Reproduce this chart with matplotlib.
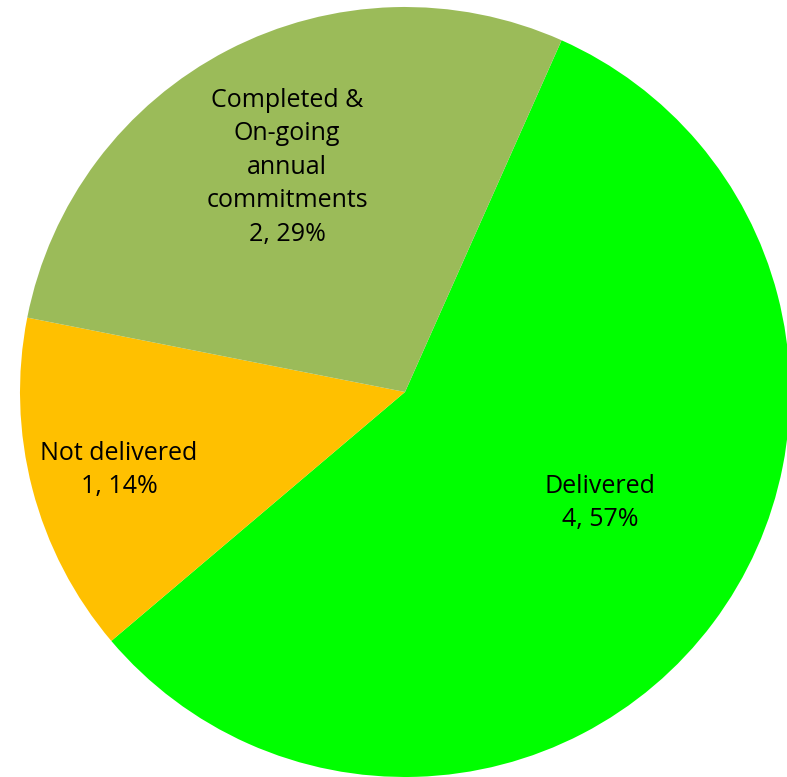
import matplotlib.pyplot as plt

labels = ["Delivered", "Not delivered", "Completed &\nOn-going\nannual\ncommitments"]
values = [4, 1, 2]
colors = ["#00FF00", "#FFC000", "#9BBB59"]
# label anchor offsets (fraction of radius)
label_pos = [(0.506, -0.288), (-0.743, -0.203), (-0.306, 0.584)]

total = sum(values)

fig = plt.figure(figsize=(7.87, 7.77), dpi=100)
ax = fig.add_axes([(405 - 385) / 787, (385 - 385) / 777, 770 / 787, 770 / 777])
ax.pie(values, colors=colors, startangle=66, counterclock=False,
       wedgeprops=dict(linewidth=0))
ax.set_xlim(-1, 1)
ax.set_ylim(-1, 1)
ax.set_aspect("equal")
ax.axis("off")

for lab, v, (x, y) in zip(labels, values, label_pos):
    txt = f"{lab}\n{v}, {round(v / total * 100)}%"
    ax.text(x, y, txt, ha="center", va="center", fontsize=18,
            family="Open Sans", linespacing=1.45)

fig.savefig("out.png", dpi=100)
